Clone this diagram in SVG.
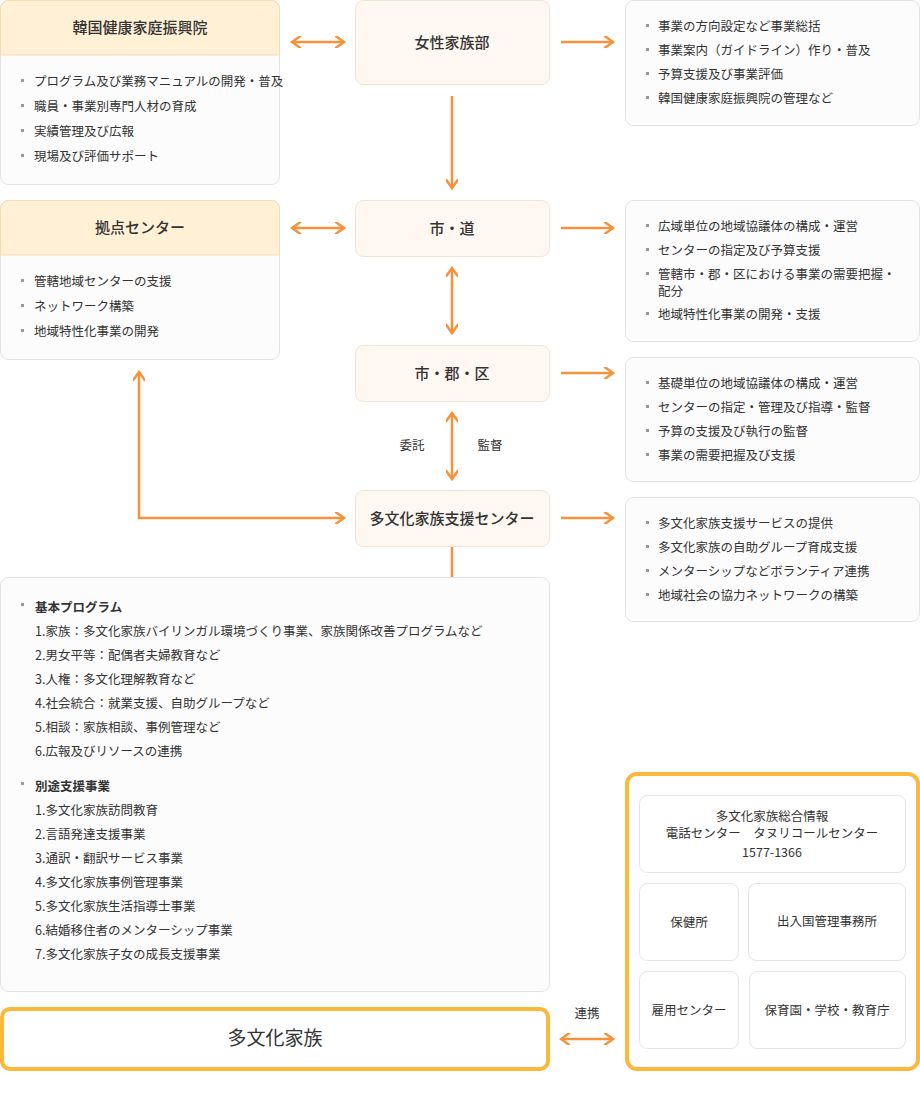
<svg xmlns="http://www.w3.org/2000/svg" width="920" height="1102" viewBox="0 0 920 1102">
<style>
text{font-family:"Noto Sans CJK JP","Noto Sans",sans-serif;fill:#333}
.t{font-size:12.5px}
.h{font-size:15px;font-weight:500;text-anchor:middle}
.c{font-size:12.5px;text-anchor:middle}
.b{fill:#fcfcfc;stroke:#e3e3e3;stroke-width:1}
.n{fill:#fff8f2;stroke:#f3e3d3;stroke-width:1}
.hd{fill:#fff0d6;stroke:#f3dcb6}
.w{fill:#fff;stroke:#e3e3e3}
.y{fill:#fff;stroke:#fbb83a;stroke-width:4}
.a{stroke:#f7923a;stroke-width:2.5;fill:none}
.d{fill:#999}
</style>
<defs>
<marker id="m" viewBox="0 0 10 10" refX="8" refY="5" markerWidth="5" markerHeight="5" orient="auto-start-reverse"><path d="M1,0 L8,5 L1,10" fill="none" stroke="#f7923a" stroke-width="2"/></marker>
</defs>
<g id="kihp">
<rect class="b" x="0.5" y="0.5" width="279" height="184" rx="8"/>
<path class="hd" d="M0.5,55 V8.5 a8,8 0 0 1 8,-8 H271.5 a8,8 0 0 1 8,8 V55 Z"/>
<text class="h" x="140" y="33">韓国健康家庭振興院</text>
<g class="t"><rect class="d" x="21" y="79" width="3" height="3"/><text x="34" y="86">プログラム及び業務マニュアルの開発・普及</text>
<rect class="d" x="21" y="104" width="3" height="3"/><text x="34" y="111">職員・事業別専門人材の育成</text>
<rect class="d" x="21" y="129" width="3" height="3"/><text x="34" y="136">実績管理及び広報</text>
<rect class="d" x="21" y="154" width="3" height="3"/><text x="34" y="161">現場及び評価サポート</text></g>
</g>
<g id="mogef"><rect class="n" x="355.5" y="0.5" width="194" height="84" rx="8"/><text class="h" x="452" y="48">女性家族部</text></g>
<g id="r1"><rect class="b" x="625.5" y="0.5" width="294" height="125" rx="8"/>
<g class="t"><rect class="d" x="646" y="24" width="3" height="3"/><text x="658" y="31">事業の方向設定など事業総括</text>
<rect class="d" x="646" y="48" width="3" height="3"/><text x="658" y="55">事業案内（ガイドライン）作り・普及</text>
<rect class="d" x="646" y="72" width="3" height="3"/><text x="658" y="79">予算支援及び事業評価</text>
<rect class="d" x="646" y="96" width="3" height="3"/><text x="658" y="103">韓国健康家庭振興院の管理など</text></g></g>
<g id="hub">
<rect class="b" x="0.5" y="200.5" width="279" height="159" rx="8"/>
<path class="hd" d="M0.5,255 V208.5 a8,8 0 0 1 8,-8 H271.5 a8,8 0 0 1 8,8 V255 Z"/>
<text class="h" x="140" y="233">拠点センター</text>
<g class="t"><rect class="d" x="21" y="279" width="3" height="3"/><text x="34" y="286">管轄地域センターの支援</text>
<rect class="d" x="21" y="304" width="3" height="3"/><text x="34" y="311">ネットワーク構築</text>
<rect class="d" x="21" y="329" width="3" height="3"/><text x="34" y="336">地域特性化事業の開発</text></g>
</g>
<g id="sido"><rect class="n" x="355.5" y="200.5" width="194" height="56" rx="8"/><text class="h" x="452" y="234">市・道</text></g>
<g id="r2"><rect class="b" x="625.5" y="200.5" width="294" height="141" rx="8"/>
<g class="t"><rect class="d" x="646" y="224" width="3" height="3"/><text x="658" y="231">広域単位の地域協議体の構成・運営</text>
<rect class="d" x="646" y="248" width="3" height="3"/><text x="658" y="255">センターの指定及び予算支援</text>
<rect class="d" x="646" y="272" width="3" height="3"/><text x="658" y="279">管轄市・郡・区における事業の需要把握・</text><text x="658" y="296">配分</text>
<rect class="d" x="646" y="312" width="3" height="3"/><text x="658" y="319">地域特性化事業の開発・支援</text></g></g>
<g id="sigungu"><rect class="n" x="355.5" y="345.5" width="194" height="56" rx="8"/><text class="h" x="452" y="379">市・郡・区</text></g>
<g id="r3"><rect class="b" x="625.5" y="357.5" width="294" height="124" rx="8"/>
<g class="t"><rect class="d" x="646" y="381" width="3" height="3"/><text x="658" y="388">基礎単位の地域協議体の構成・運営</text>
<rect class="d" x="646" y="405" width="3" height="3"/><text x="658" y="412">センターの指定・管理及び指導・監督</text>
<rect class="d" x="646" y="429" width="3" height="3"/><text x="658" y="436">予算の支援及び執行の監督</text>
<rect class="d" x="646" y="453" width="3" height="3"/><text x="658" y="460">事業の需要把握及び支援</text></g></g>
<g id="center"><rect class="n" x="355.5" y="490.5" width="194" height="56" rx="8"/><text class="h" x="452" y="524">多文化家族支援センター</text></g>
<g id="r4"><rect class="b" x="625.5" y="497.5" width="294" height="124" rx="8"/>
<g class="t"><rect class="d" x="646" y="521" width="3" height="3"/><text x="658" y="528">多文化家族支援サービスの提供</text>
<rect class="d" x="646" y="545" width="3" height="3"/><text x="658" y="552">多文化家族の自助グループ育成支援</text>
<rect class="d" x="646" y="569" width="3" height="3"/><text x="658" y="576">メンターシップなどボランティア連携</text>
<rect class="d" x="646" y="593" width="3" height="3"/><text x="658" y="600">地域社会の協力ネットワークの構築</text></g></g>
<g id="programs"><rect class="b" x="0.5" y="577.5" width="549" height="414" rx="8"/>
<g class="t"><rect class="d" x="21" y="603" width="3" height="3"/><text x="35" y="612" font-weight="bold">基本プログラム</text>
<text x="35" y="636">1.家族：多文化家族バイリンガル環境づくり事業、家族関係改善プログラムなど</text>
<text x="35" y="660">2.男女平等：配偶者夫婦教育など</text>
<text x="35" y="684">3.人権：多文化理解教育など</text>
<text x="35" y="708">4.社会統合：就業支援、自助グループなど</text>
<text x="35" y="732">5.相談：家族相談、事例管理など</text>
<text x="35" y="756">6.広報及びリソースの連携</text>
<rect class="d" x="21" y="782" width="3" height="3"/><text x="35" y="791" font-weight="bold">別途支援事業</text>
<text x="35" y="815">1.多文化家族訪問教育</text>
<text x="35" y="839">2.言語発達支援事業</text>
<text x="35" y="863">3.通訳・翻訳サービス事業</text>
<text x="35" y="887">4.多文化家族事例管理事業</text>
<text x="35" y="911">5.多文化家族生活指導士事業</text>
<text x="35" y="935">6.結婚移住者のメンターシップ事業</text>
<text x="35" y="959">7.多文化家族子女の成長支援事業</text></g></g>
<g id="family"><rect class="y" x="2" y="1009" width="546" height="60" rx="8"/><text x="275" y="1045" font-size="19" text-anchor="middle">多文化家族</text></g>
<g id="partners"><rect class="y" x="627" y="774" width="291" height="295" rx="10"/>
<rect class="w" x="639.5" y="795.5" width="266" height="77" rx="8"/>
<text class="c" x="772" y="821" font-size="12">多文化家族総合情報</text><text class="c" x="772" y="838" font-size="12">電話センター　タヌリコールセンター</text><text class="c" x="772" y="857" font-size="13.5">1577-1366</text>
<rect class="w" x="639.5" y="883.5" width="99" height="77" rx="8"/><text class="c" x="689" y="927">保健所</text>
<rect class="w" x="748.5" y="883.5" width="157" height="77" rx="8"/><text class="c" x="827" y="926">出入国管理事務所</text>
<rect class="w" x="639.5" y="971.5" width="99" height="77" rx="8"/><text class="c" x="689" y="1015">雇用センター</text>
<rect class="w" x="749.5" y="971.5" width="156" height="77" rx="8"/><text class="c" x="827" y="1015">保育園・学校・教育庁</text>
</g>
<g id="connectors">
<path class="a" d="M292,42 H344" marker-start="url(#m)" marker-end="url(#m)"/>
<path class="a" d="M561,42 H613" marker-end="url(#m)"/>
<path class="a" d="M452,96 V188" marker-end="url(#m)"/>
<path class="a" d="M292,228 H344" marker-start="url(#m)" marker-end="url(#m)"/>
<path class="a" d="M561,228 H613" marker-end="url(#m)"/>
<path class="a" d="M452,268 V333" marker-start="url(#m)" marker-end="url(#m)"/>
<path class="a" d="M561,373 H613" marker-end="url(#m)"/>
<path class="a" d="M452,413 V479" marker-start="url(#m)" marker-end="url(#m)"/>
<text class="c" x="412" y="450">委託</text><text class="c" x="490" y="450">監督</text>
<path class="a" d="M561,518 H613" marker-end="url(#m)"/>
<path class="a" d="M139,372 V518 H344" marker-start="url(#m)" marker-end="url(#m)"/>
<path class="a" d="M452,547 V577"/>
<text class="c" x="587" y="1018">連携</text>
<path class="a" d="M561,1039 H613" marker-start="url(#m)" marker-end="url(#m)"/>
</g>
</svg>
